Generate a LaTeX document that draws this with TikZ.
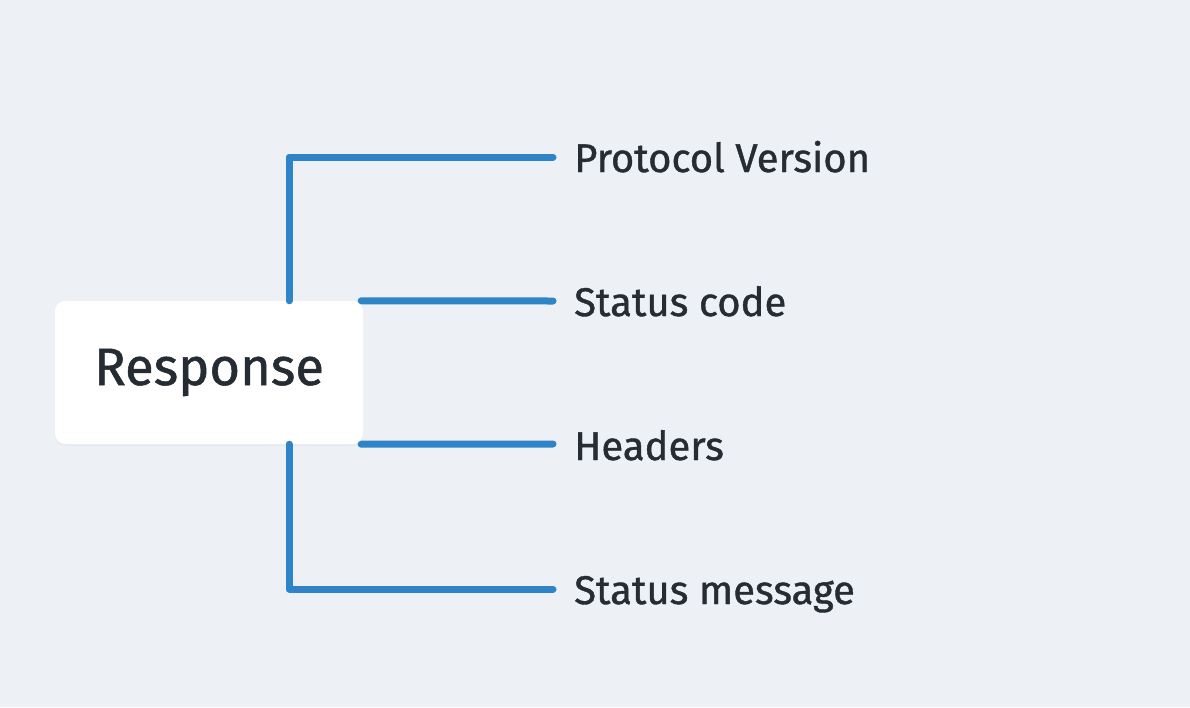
\documentclass[tikz,border=0pt]{standalone}
\usepackage{fontspec}
\setmainfont{Fira Sans}[UprightFeatures={FakeBold=1.0}]
\usetikzlibrary{shadows}
\definecolor{bgc}{HTML}{EDF1F5}
\definecolor{linec}{HTML}{2E84C6}
\definecolor{txtc}{HTML}{262C33}
\tikzset{
  conn/.style={draw=linec, line width=7pt, line cap=round, line join=round},
  rootbox/.style={fill=white, rounded corners=10pt, minimum width=308pt, minimum height=143pt, inner sep=0pt,
    text=txtc, font=\fontsize{52.5}{60}\selectfont,
    drop shadow={opacity=0.06, shadow xshift=0pt, shadow yshift=-2pt}},
  leaf/.style={anchor=base west, inner sep=0pt, text=txtc, font=\fontsize{40}{46}\selectfont}
}
\begin{document}
\begin{tikzpicture}[x=1pt, y=-1pt]
\useasboundingbox[fill=bgc] (0,0) rectangle (1190,707);
\coordinate (spine) at (289,0);
\node[rootbox] (resp) at (209,372.5) {Response};
\coordinate (e1) at (553,157);
\coordinate (e4) at (553,589);
\coordinate (e2) at (553,301);
\coordinate (e3) at (553,444);
\draw[conn] (resp.north -| spine) |- (e1);
\draw[conn] (resp.south -| spine) |- (e4);
\draw[conn] ([xshift=-2pt]resp.north east) -- (e2);
\draw[conn] ([xshift=-2pt]resp.south east) -- (e3);
\node[leaf] (l1) at (574,172) {Protocol Version};
\node[leaf] (l2) at (574,316) {Status code};
\node[leaf] (l3) at (574,460) {Headers};
\node[leaf] (l4) at (574,604) {Status message};
\end{tikzpicture}
\end{document}
